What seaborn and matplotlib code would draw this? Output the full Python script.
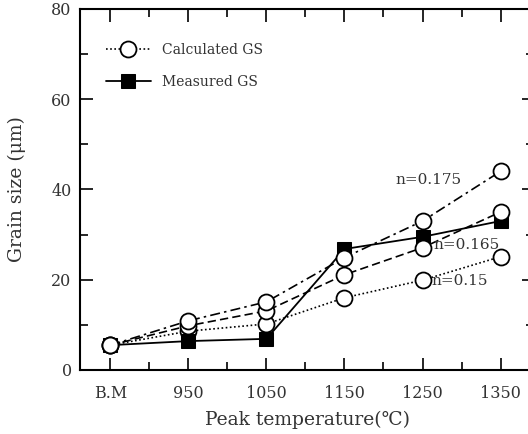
import matplotlib
matplotlib.use("Agg")
import matplotlib.pyplot as plt
from matplotlib.ticker import MultipleLocator, FixedLocator
import seaborn as sns
import numpy as np

categories = ["B.M", "950", "1050", "1150", "1250", "1350"]
calc_n0175 = [5.5, 10.9, 15.1, 24.9, 33.0, 44.0]
calc_n0165 = [5.5, 9.8, 13.1, 21.1, 27.1, 35.0]
calc_n015 = [5.5, 8.6, 10.2, 16.0, 19.9, 25.1]
measured = [5.5, 6.4, 6.9, 26.8, 29.5, 33.0]

sns.set_theme(style="ticks")
plt.rcParams['font.family'] = ['DejaVu Serif', 'Noto Sans CJK KR']
txt = "#333333"

fig = plt.figure(figsize=(5.28, 4.34), dpi=100)
ax = fig.add_axes([0.1515, 0.1475, 0.86, 0.832])

x = np.arange(len(categories))
circ = dict(marker="o", markersize=11.5, markerfacecolor="white",
            markeredgecolor="black", markeredgewidth=1.3, color="black", linewidth=1.2)

sns.lineplot(x=x, y=calc_n015, ax=ax, linestyle=(0, (1, 1.5)), **circ, label="Calculated GS")
sns.lineplot(x=x, y=measured, ax=ax, linestyle="-", marker="s", markersize=10,
             markerfacecolor="black", markeredgecolor="black", color="black",
             linewidth=1.3, label="Measured GS")
sns.lineplot(x=x, y=calc_n0165, ax=ax, linestyle=(0, (5, 2.5)), **circ, label="_n1")
sns.lineplot(x=x, y=calc_n0175, ax=ax, linestyle=(0, (6, 2.5, 1.5, 2.5)), **circ, label="_n2")

ax.set_xlim(-0.39, 5.43)
ax.set_ylim(0, 80)
ax.xaxis.set_major_locator(FixedLocator(x))
ax.xaxis.set_minor_locator(FixedLocator(x[:-1] + 0.5))
ax.set_xticks(x)
ax.set_xticklabels(categories)
ax.yaxis.set_major_locator(MultipleLocator(20))
ax.yaxis.set_minor_locator(MultipleLocator(10))
ax.tick_params(which="both", direction="in", top=True, right=True, colors="black",
               labelcolor=txt, labelsize=11.5, width=1.2)
ax.tick_params(which="major", length=9)
ax.tick_params(axis="x", which="major", pad=11)
ax.tick_params(axis="y", which="major", pad=6)
ax.tick_params(which="minor", length=6)
for s in ax.spines.values():
    s.set_linewidth(1.5)
    s.set_color("black")
ax.spines["right"].set_visible(False)

ax.set_xlabel("Peak temperature(℃)", fontsize=13.5, color=txt, labelpad=6)
ax.set_ylabel("Grain size (μm)", fontsize=13.5, color=txt, labelpad=18)

ax.text(3.65, 41.3, "n=0.175", fontsize=11, color=txt)
ax.text(4.14, 26.8, "n=0.165", fontsize=11, color=txt)
ax.text(4.12, 18.8, "n=0.15", fontsize=11, color=txt)

leg = ax.legend(loc="upper left", bbox_to_anchor=(0.03, 0.94), frameon=False,
                fontsize=10, handlelength=3.2, labelspacing=1.3, handletextpad=0.8)
for t in leg.get_texts():
    t.set_color(txt)

fig.savefig("out.png", dpi=100)
